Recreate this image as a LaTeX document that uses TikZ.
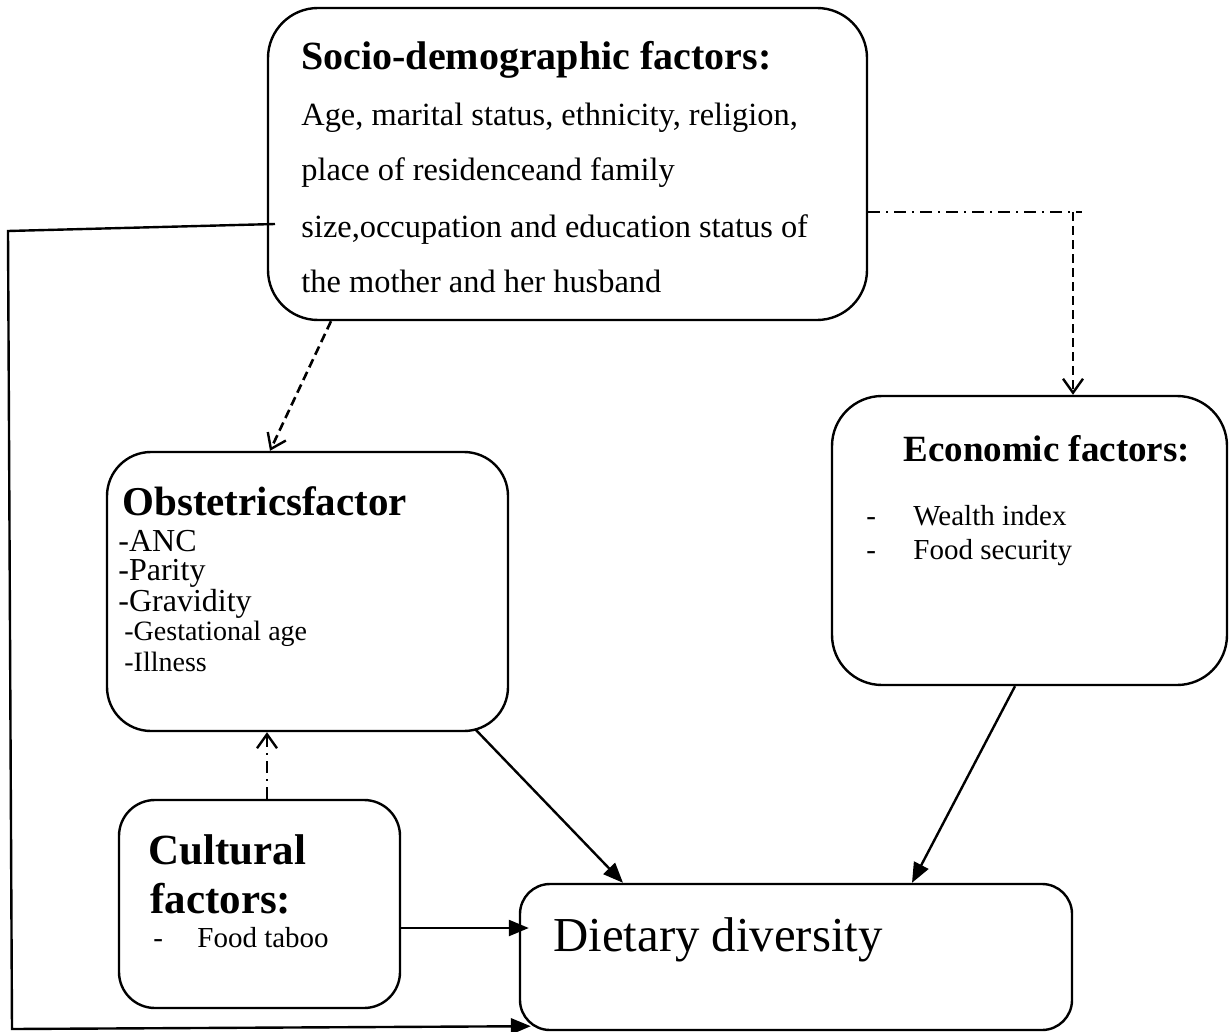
\documentclass[tikz,border=0pt]{standalone}
\usepackage{fontspec}
\setmainfont{Liberation Serif}
\usetikzlibrary{arrows.meta}
\begin{document}
\begin{tikzpicture}[x=0.5pt,y=-0.5pt,
  boxstyle/.style={draw,line width=1.2pt,inner sep=0pt},
  txt/.style={anchor=base west,inner sep=0pt},
  dshline/.style={line width=1.3pt,dash pattern=on 4.5pt off 2.5pt},
  ddline/.style={line width=1.0pt,dash pattern=on 6pt off 3pt on 1pt off 3pt},
  vtip/.style={-{Straight Barb[length=7pt,width=10pt,line width=1.2pt]}},
  ftip/.style={-{Triangle[length=10pt,width=8pt]}},
  solidline/.style={line width=1.2pt}]
\useasboundingbox (0,0) rectangle (1230,1032);
\fill[white] (0,0) rectangle (1230,1032);

% boxes
\node[boxstyle,rounded corners=25pt,minimum width=299.5pt,minimum height=156pt] (socio) at (567.5,164) {};
\node[boxstyle,rounded corners=22pt,minimum width=200.5pt,minimum height=139.5pt] (obst) at (307.5,591.5) {};
\node[boxstyle,rounded corners=25pt,minimum width=197.5pt,minimum height=144.5pt] (econ) at (1029.5,540.5) {};
\node[boxstyle,rounded corners=18pt,minimum width=140.5pt,minimum height=104pt] (cult) at (259.5,904) {};
\node[boxstyle,rounded corners=15pt,minimum width=276pt,minimum height=73pt] (diet) at (796,957) {};

% socio texts
\node[txt,font=\fontsize{20}{24}\selectfont\bfseries] (st) at (301,70) {Socio-demographic factors:};
\node[txt,font=\fontsize{16.2}{19}\selectfont] (s1) at (301,126) {Age, marital status, ethnicity, religion,};
\node[txt,font=\fontsize{16.2}{19}\selectfont] (s2) at (301,181) {place of residenceand family};
\node[txt,font=\fontsize{16.2}{19}\selectfont] (s3) at (301,237) {size,occupation and education status of};
\node[txt,font=\fontsize{16.2}{19}\selectfont] (s4) at (301,292) {the mother and her husband};

% obstetrics texts
\node[txt,font=\fontsize{20.5}{24}\selectfont\bfseries] (ot) at (122,515) {Obstetricsfactor};
\node[txt,font=\fontsize{16}{19}\selectfont] (o1) at (118,551) {-ANC};
\node[txt,font=\fontsize{16}{19}\selectfont] (o2) at (118,580) {-Parity};
\node[txt,font=\fontsize{16}{19}\selectfont] (o3) at (118,611) {-Gravidity};
\node[txt,font=\fontsize{14}{17}\selectfont] (o4) at (124,640) {-Gestational age};
\node[txt,font=\fontsize{14}{17}\selectfont] (o5) at (124,671) {-Illness};

% economic texts
\node[txt,font=\fontsize{18.5}{22}\selectfont\bfseries] (et) at (903,461) {Economic factors:};
\node[txt,font=\fontsize{14.5}{17}\selectfont] (ed1) at (866,525) {-};
\node[txt,font=\fontsize{14.5}{17}\selectfont] (e1) at (913,525) {Wealth index};
\node[txt,font=\fontsize{14.5}{17}\selectfont] (ed2) at (866,559) {-};
\node[txt,font=\fontsize{14.5}{17}\selectfont] (e2) at (913,559) {Food security};

% cultural texts
\node[txt,font=\fontsize{21.5}{25}\selectfont\bfseries] (ct1) at (148,864) {Cultural};
\node[txt,font=\fontsize{21.5}{25}\selectfont\bfseries] (ct2) at (150,913) {factors:};
\node[txt,font=\fontsize{14.5}{17}\selectfont] (cd) at (153,947) {-};
\node[txt,font=\fontsize{14.5}{17}\selectfont] (c1) at (197,947) {Food taboo};

% dietary text
\node[txt,font=\fontsize{24.4}{29}\selectfont] (dt) at (553,951) {Dietary diversity};

% coordinates
\coordinate (ddend) at (1082,212);
\coordinate (ecorner) at (1073,212);
\coordinate (obstart) at (475,729);
\coordinate (l0) at (275,224);
\coordinate (l1) at (8,231);
\coordinate (l2) at (12,1029);

% connectors
\draw[dshline,vtip] (socio.south -| 331,0) -- (obst.north -| 270,0);
\draw[ddline] (socio.east |- ecorner) -- (ddend);
\draw[dshline,vtip] (ecorner) -- (econ.north -| ecorner);
\draw[ddline,vtip] (cult.north -| 267,0) -- (obst.south -| 267,0);
\draw[solidline,ftip] (obstart) -- (diet.north -| 623,0);
\draw[solidline,ftip] (econ.south -| 1015,0) -- (diet.north -| 912,0);
\draw[solidline,ftip] (cult.east |- 0,928) -- ([xshift=5pt]diet.west |- 0,928);
\draw[solidline,ftip] (l0) -- (l1) -- (l2) -- ([xshift=6pt,yshift=2.5pt]diet.south west);
\end{tikzpicture}
\end{document}
